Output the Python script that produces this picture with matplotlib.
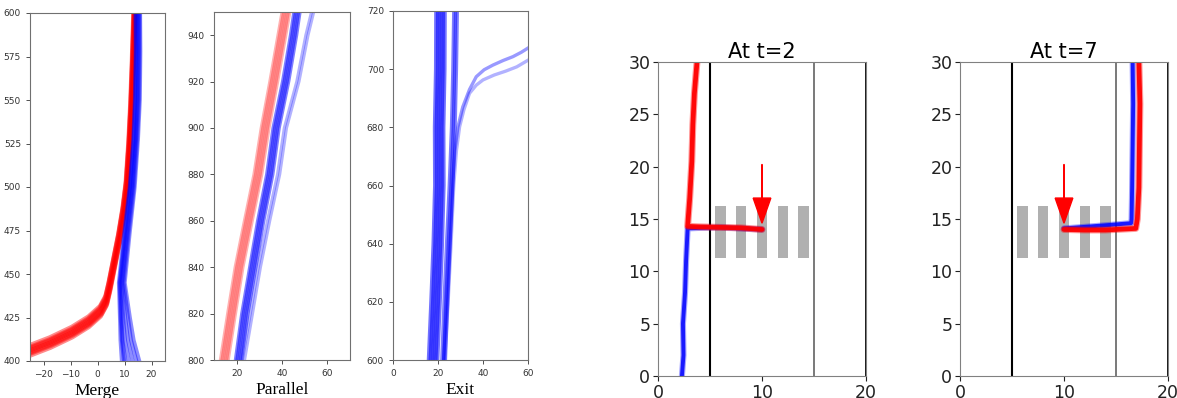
import matplotlib
matplotlib.use('Agg')
import matplotlib.pyplot as plt
import numpy as np

W, H = 1177, 398

# ---- Merge panel ----
merge_red_x = [-33, -27.3, -17.3, -9.2, -3.0, 1.3, 3.4, 4.6, 6.4, 8.2, 9.8, 11.0, 12.0, 12.7, 13.3, 13.9]
merge_red_y = [398, 404, 410, 416, 422, 428, 434, 442, 456, 470, 485, 500, 523, 545, 570, 600]
merge_red_dx = [0.0, -0.3, -0.6, 0.2, -0.4, -0.1, -0.2, 0.1, -0.5]
merge_red_dy = [0.0, 1.2, 2.4, -1.2, 3.6, -2.4, 0.6, -0.6, 1.8]

merge_blue_y = [400, 412, 425, 445, 473, 500, 527, 550, 578, 600]
merge_blue_runs = [
    [9.0, 8.5, 8.3, 7.9, 9.8, 11.9, 13.2, 13.8, 14.1, 14.0],
    [10.3, 9.3, 8.9, 8.4, 10.3, 12.3, 13.6, 14.2, 14.5, 14.5],
    [11.6, 10.2, 9.5, 8.8, 10.7, 12.7, 14.0, 14.6, 14.9, 14.9],
    [13.0, 11.3, 10.3, 9.2, 11.1, 13.1, 14.3, 15.0, 15.3, 15.3],
    [14.4, 12.4, 11.3, 9.7, 11.5, 13.5, 14.7, 15.4, 15.6, 15.6],
    [15.5, 13.4, 12.0, 10.1, 11.9, 13.8, 15.0, 15.7, 15.9, 15.8],
    [9.8, 9.0, 8.6, 8.2, 10.1, 12.1, 13.4, 14.0, 14.3, 14.2],
]

# ---- Parallel panel ----
par_y = [800, 820, 840, 860, 880, 900, 920, 940, 950]
par_red_x = [14.8, 18.0, 21.3, 25.4, 29.6, 32.8, 36.6, 40.2, 42.0]
par_red_dx = [-2.0, -1.3, -0.6, 0.1, 0.8, 1.5]
par_blue_x = [21.2, 24.0, 27.5, 31.0, 35.0, 37.8, 42.0, 45.5, 47.0]
par_blue_dx = [-1.8, -1.1, -0.4, 0.3, 1.0]
par_blue_faint_x = [23.5, 27.0, 30.5, 34.6, 39.0, 42.0, 47.5, 51.5, 54.0]
par_blue_faint_dx = [0.0, -1.0]

# ---- Exit panel ----
exit_y = [600, 620, 640, 660, 680, 700, 720]
exit_main_x = [18.2, 19.3, 20.3, 21.0, 20.9, 21.4, 21.5]
exit_main_dx = [-2.4, -1.6, -0.8, 0.0, 0.8, 1.6]
exit_second_x = [22.5, 23.5, 24.6, 25.8, 26.8, 27.4, 27.8]
exit_second_dx = [-0.8, 0.0, 0.8]
exit_turn_a_x = [22.5, 24.0, 25.3, 26.5, 27.5, 28.8, 31.0, 34.0, 37.0, 40.5, 44.4, 49.0, 53.3, 57.0, 60.5]
exit_turn_a_y = [600, 620, 640, 660, 672, 680, 687, 693, 697.4, 699.8, 701.4, 703, 704.3, 705.8, 707.5]
exit_turn_b_x = [23.0, 24.5, 25.8, 27.0, 28.2, 29.6, 31.5, 34.0, 37.0, 40.0, 45.0, 50.0, 55.0, 60.5]
exit_turn_b_y = [600, 620, 640, 660, 672, 680.2, 686, 691.7, 694.5, 696.3, 698, 699.3, 700.8, 703.3]

# ---- crossing scenes ----
crosswalk_x = [6, 8, 10, 12, 14]
t2_blue_x = [2.3, 2.45, 2.4, 2.6, 2.7, 2.85, 4.0, 6.0, 8.0, 10.0]
t2_blue_y = [0, 2, 5, 8, 11, 14.1, 14.15, 14.2, 14.1, 14.0]
t2_red_x = [3.75, 3.5, 3.35, 3.25, 3.05, 2.9, 2.85, 4.0, 6.0, 8.0, 10.0]
t2_red_y = [30, 27, 24, 20.5, 17, 15, 14.3, 14.25, 14.2, 14.15, 14.0]
t7_blue_x = [16.6, 16.65, 16.6, 16.55, 16.5, 16.45, 14.0, 12.0, 10.0]
t7_blue_y = [30, 26, 22, 18, 15, 14.6, 14.4, 14.25, 14.1]
t7_red_x = [17.2, 17.3, 17.25, 17.2, 17.05, 16.9, 14.0, 12.0, 10.0]
t7_red_y = [30, 26, 22, 18, 15, 14.1, 13.95, 13.95, 14.0]


def frac(l, t, r, b):
    return [l / W, 1 - b / H, (r - l) / W, (b - t) / H]


def style_small(ax):
    for s in ax.spines.values():
        s.set_color('#707070')
        s.set_linewidth(0.8)
    ax.tick_params(labelsize=6.5, colors='#333333', width=0.6, length=3)


fig = plt.figure(figsize=(W / 100, H / 100), dpi=100)

# Merge
ax1 = fig.add_axes(frac(30, 13, 165, 361))
for dx, dy in zip(merge_red_dx, merge_red_dy):
    ax1.plot(np.array(merge_red_x) + dx, np.array(merge_red_y) + dy, color='red', lw=3.0, alpha=0.45)
for run in merge_blue_runs:
    ax1.plot(run, merge_blue_y, color='blue', lw=2.8, alpha=0.45)
ax1.set_xlim(-25, 25)
ax1.set_ylim(400, 600)
ax1.set_xticks([-20, -10, 0, 10, 20])
ax1.set_yticks(range(400, 601, 25))
style_small(ax1)
ax1.set_xlabel('Merge', fontfamily='Liberation Serif', fontsize=12.5, labelpad=3)

# Parallel
ax2 = fig.add_axes(frac(214, 12, 350, 360))
for dx in par_red_dx:
    ax2.plot(np.array(par_red_x) + dx, par_y, color='red', lw=2.2, alpha=0.3)
for dx in par_blue_dx:
    ax2.plot(np.array(par_blue_x) + dx, par_y, color='blue', lw=2.2, alpha=0.5)
for dx in par_blue_faint_dx:
    ax2.plot(np.array(par_blue_faint_x) + dx, par_y, color='blue', lw=2.2, alpha=0.3)
ax2.set_xlim(10, 70)
ax2.set_ylim(800, 950)
ax2.set_xticks([20, 40, 60])
ax2.set_yticks(range(800, 941, 20))
style_small(ax2)
ax2.set_xlabel('Parallel', fontfamily='Liberation Serif', fontsize=12.5, labelpad=3)

# Exit
ax3 = fig.add_axes(frac(393, 11, 528, 360))
for dx in exit_main_dx:
    ax3.plot(np.array(exit_main_x) + dx, exit_y, color='blue', lw=2.6, alpha=0.55)
for dx in exit_second_dx:
    ax3.plot(np.array(exit_second_x) + dx, exit_y, color='blue', lw=2.4, alpha=0.5)
ax3.plot(exit_turn_a_x, exit_turn_a_y, color='blue', lw=2.4, alpha=0.4)
ax3.plot(exit_turn_b_x, exit_turn_b_y, color='blue', lw=2.4, alpha=0.3)
ax3.set_xlim(0, 60)
ax3.set_ylim(600, 720)
ax3.set_xticks([0, 20, 40, 60])
ax3.set_yticks(range(600, 721, 20))
style_small(ax3)
ax3.set_xlabel('Exit', fontfamily='Liberation Serif', fontsize=12.5, labelpad=3)


def scene(rect, title, bx, by, rx, ry):
    ax = fig.add_axes(frac(*rect))
    for cx in crosswalk_x:
        ax.add_patch(plt.Rectangle((cx - 0.5, 11.3), 1.0, 4.9, color='#b0b0b0', lw=0))
    ax.axvline(5, color='black', lw=1.5)
    ax.axvline(15, color='#555555', lw=1.1)
    ax.axvline(20, color='black', lw=2.0)
    ax.plot(bx, by, color='blue', lw=4.4, alpha=0.35, solid_capstyle='round')
    ax.plot(bx, by, color='blue', lw=2.8, alpha=0.85, solid_capstyle='round')
    ax.plot(rx, ry, color='red', lw=5.0, alpha=0.4, solid_capstyle='round')
    ax.plot(rx, ry, color='red', lw=3.4, alpha=0.95, solid_capstyle='round')
    ax.arrow(10, 20.2, 0, -5.6, width=0.04, head_width=1.7, head_length=2.4,
             length_includes_head=True, color='red')
    ax.set_xlim(0, 20)
    ax.set_ylim(0, 30)
    ax.set_xticks([0, 10, 20])
    ax.set_yticks(range(0, 31, 5))
    for s in ax.spines.values():
        s.set_color('#808080')
    ax.tick_params(labelsize=12.5, colors='#222222', pad=2)
    ax.set_title(title, fontsize=15, pad=3)
    return ax


scene((658, 62, 866, 376), 'At t=2', t2_blue_x, t2_blue_y, t2_red_x, t2_red_y)
scene((960, 62, 1168, 376), 'At t=7', t7_blue_x, t7_blue_y, t7_red_x, t7_red_y)

fig.savefig('out.png', dpi=100)
